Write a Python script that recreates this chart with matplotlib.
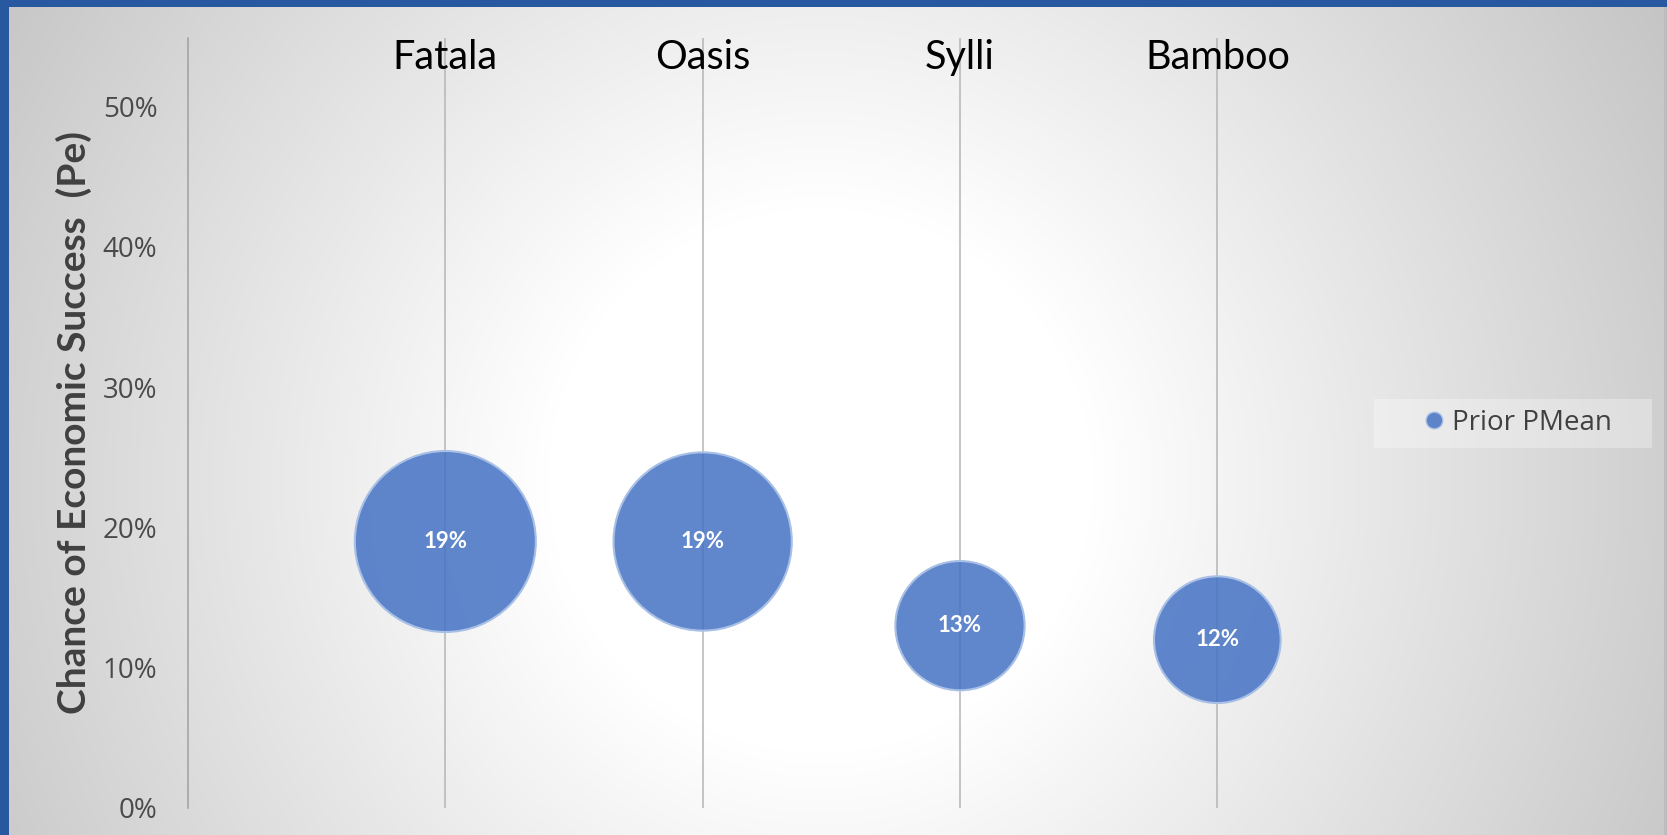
import numpy as np
import matplotlib
matplotlib.use("Agg")
import matplotlib.pyplot as plt
from matplotlib.lines import Line2D
from matplotlib.patches import Rectangle
from matplotlib.transforms import blended_transform_factory
from matplotlib.ticker import PercentFormatter

# Prospects and their prior mean chance of economic success
prospects = ["Fatala", "Oasis", "Sylli", "Bamboo"]
x_pos = [1, 2, 3, 4]
prior_pmean = [0.19, 0.19, 0.13, 0.12]
bubble_size = [100, 97, 51, 49]
y_ticks = [0.0, 0.1, 0.2, 0.3, 0.4, 0.5]
series_name = "Prior PMean"
y_title = "Chance of Economic Success  (Pe)"

W, H, DPI = 1667, 835, 100
fig = plt.figure(figsize=(W / DPI, H / DPI), dpi=DPI)

# Radial grey-to-white chart background
bg = fig.add_axes([0, 0, 1, 1], zorder=-10)
yy, xx = np.mgrid[0:H, 0:W]
d = np.hypot(xx - 820, yy - 480)
shade = np.clip(1.0 - 0.000327 * (d - 272), 0.76, 1.0)
bg.imshow(np.dstack([shade, shade, shade]), extent=[0, W, H, 0], aspect="auto",
          interpolation="bilinear")
bg.set_xlim(0, W)
bg.set_ylim(H, 0)
bg.axis("off")

# Blue frame on the top and left edges
frame_blue = "#2859A0"
fig.patches.append(Rectangle((0, 1 - 7 / H), 1, 7 / H, transform=fig.transFigure,
                             facecolor=frame_blue, edgecolor="none", zorder=5))
fig.patches.append(Rectangle((0, 0), 9 / W, 1, transform=fig.transFigure,
                             facecolor=frame_blue, edgecolor="none", zorder=5))
fig.patches.append(Rectangle((1 - 3 / W, 0), 3 / W, 1 - 7 / H, transform=fig.transFigure,
                             facecolor="#BDBDBD", edgecolor="none", zorder=5))

# Light box behind the legend, drawn beneath the plot axes
fig.patches.append(Rectangle((1374 / W, (H - 448) / H), 278 / W, 49 / H,
                             transform=fig.transFigure, facecolor="white",
                             alpha=0.3, edgecolor="none", zorder=-5))

left_px, right_px, top_px, bottom_px = 188, 1346, 38, 808
ax = fig.add_axes([left_px / W, (H - bottom_px) / H,
                   (right_px - left_px) / W, (bottom_px - top_px) / H])
ax.set_facecolor("none")
ax.set_xlim(0, 4.5)
ax.set_ylim(0, 0.549)

for s in ["top", "right", "bottom"]:
    ax.spines[s].set_visible(False)
ax.spines["left"].set_color("#A0A0A0")
ax.spines["left"].set_linewidth(1.1)

ax.set_xticks(x_pos)
ax.tick_params(axis="x", length=0, labelbottom=False)
ax.grid(axis="x", color="#B5B5B5", linewidth=1.1, zorder=1)
ax.set_axisbelow(True)

ax.set_yticks(y_ticks)
ax.yaxis.set_major_formatter(PercentFormatter(1.0, decimals=0))
ax.tick_params(axis="y", length=0, pad=22, labelsize=20, labelcolor="#4A4A4A")
for lab in ax.get_yticklabels():
    lab.set_fontfamily("Open Sans")

# Bubbles: marker area proportional to bubble size
max_diam_pt = 181.0 * 72 / DPI
areas = [b / max(bubble_size) * max_diam_pt ** 2 for b in bubble_size]
face = (0x44 / 255, 0x72 / 255, 0xC4 / 255, 0.85)
ax.scatter(x_pos, prior_pmean, s=areas, color=face, edgecolors="#A9C0E6",
           linewidths=1.5, zorder=3, clip_on=False)

for x, v in zip(x_pos, prior_pmean):
    ax.text(x, v, f"{v:.0%}", ha="center", va="center", color="white",
            fontsize=16, fontweight="bold", fontfamily="Lato", zorder=4)

# Prospect names across the top
top_tr = blended_transform_factory(ax.transData, fig.transFigure)
for x, name in zip(x_pos, prospects):
    ax.text(x, (H - 69) / H, name, transform=top_tr, ha="center", va="baseline",
            fontsize=28.5, fontfamily="Lato", color="black", zorder=4)

ax.set_ylabel(y_title, fontsize=28, fontweight="bold", fontfamily="Lato",
              color="#404040", va="center")
ax.yaxis.set_label_coords((74 - left_px) / (right_px - left_px), 0.5)

handle = Line2D([], [], marker="o", linestyle="", markersize=12,
                markerfacecolor=face, markeredgecolor="#A9C0E6", markeredgewidth=1)
leg = ax.legend([handle], [series_name], loc="center left",
                bbox_to_anchor=(1420 / W, (H - 423) / H),
                bbox_transform=fig.transFigure, frameon=False, borderpad=0,
                borderaxespad=0, handlelength=1.0, handletextpad=0.15,
                prop={"family": "Open Sans", "size": 20})
for t in leg.get_texts():
    t.set_color("#404040")

fig.savefig("out.png", dpi=DPI)
